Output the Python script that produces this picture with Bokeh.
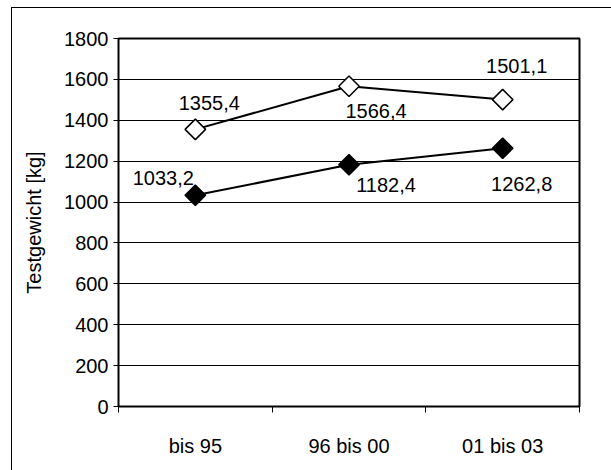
import numpy as np
from bokeh.plotting import figure
from bokeh.models import ColumnDataSource, FixedTicker, Range1d
from bokeh.core.properties import value
from bokeh.embed import file_html
from bokeh.resources import INLINE

categories = ["bis 95", "96 bis 00", "01 bis 03"]
open_values = [1355.4, 1566.4, 1501.1]
filled_values = [1033.2, 1182.4, 1262.8]
y_ticks = [0, 200, 400, 600, 800, 1000, 1200, 1400, 1600, 1800]

# label placement (style, in screen pixels; positive dy = down)
open_dx = [14, 27, 14]
open_dy = [-26, 25, -34]
filled_dx = [-32, 37, 19]
filled_dy = [-17, 20, 36]

FONT = "Liberation Sans"
FS = "20px"

xs = [i + 0.5 for i in range(len(categories))]

def fmt(v):
    return f"{v:.1f}".replace(".", ",")

p = figure(width=599, height=462, output_backend="svg", toolbar_location=None,
           x_range=Range1d(0, len(categories)), y_range=Range1d(0, 1800),
           frame_width=461, frame_height=368,
           min_border_left=106, min_border_right=32, min_border_top=30, min_border_bottom=64)
p.margin = (7, 0, 0, 11)
p.styles = {"border-left": "1px solid #000", "border-top": "1px solid #000"}

p.outline_line_color = "black"
p.outline_line_width = 2
p.background_fill_color = "white"
p.border_fill_color = "white"

p.xgrid.visible = False
p.ygrid.grid_line_color = "black"
p.ygrid.grid_line_width = 1
p.ygrid.ticker = FixedTicker(ticks=y_ticks)

p.yaxis.ticker = FixedTicker(ticks=y_ticks)
p.yaxis.axis_line_color = "black"
p.yaxis.axis_line_width = 1
p.yaxis.major_tick_out = 5
p.yaxis.major_tick_in = 0
p.yaxis.minor_tick_out = 0
p.yaxis.minor_tick_in = 0
p.yaxis.major_label_standoff = 5
p.yaxis.major_label_text_font = FONT
p.yaxis.major_label_text_font_size = FS
p.yaxis.major_label_text_color = "black"
p.yaxis.axis_label = "Testgewicht [kg]"
p.yaxis.axis_label_text_font = FONT
p.yaxis.axis_label_text_font_size = FS
p.yaxis.axis_label_text_font_style = "normal"
p.yaxis.axis_label_text_color = "black"
p.yaxis.axis_label_standoff = 16

p.xaxis.ticker = FixedTicker(ticks=xs, minor_ticks=list(range(len(categories) + 1)))
p.xaxis.major_label_overrides = {x: c for x, c in zip(xs, categories)}
p.xaxis.axis_line_color = "black"
p.xaxis.major_tick_out = 0
p.xaxis.major_tick_in = 0
p.xaxis.minor_tick_out = 6
p.xaxis.minor_tick_in = 0
p.xaxis.major_label_standoff = 22
p.xaxis.major_label_text_font = FONT
p.xaxis.major_label_text_font_size = FS
p.xaxis.major_label_text_color = "black"

src_o = ColumnDataSource(dict(x=xs, y=open_values, t=[fmt(v) for v in open_values],
                              dx=open_dx, dy=open_dy))
src_f = ColumnDataSource(dict(x=xs, y=filled_values, t=[fmt(v) for v in filled_values],
                              dx=filled_dx, dy=filled_dy))

p.line("x", "y", source=src_o, line_color="black", line_width=2)
p.line("x", "y", source=src_f, line_color="black", line_width=2)
p.scatter("x", "y", source=src_o, marker="square", angle=np.pi / 4, size=14.5,
          fill_color="white", line_color="black", line_width=1.5)
p.scatter("x", "y", source=src_f, marker="square", angle=np.pi / 4, size=14.5,
          fill_color="black", line_color="black", line_width=1.5)

for src in (src_o, src_f):
    p.text("x", "y", text="t", source=src, x_offset="dx", y_offset="dy",
           text_align="center", text_baseline="middle",
           text_font=value(FONT), text_font_size=FS, text_color="black")

open("out.html", "w").write(file_html(p, INLINE))
